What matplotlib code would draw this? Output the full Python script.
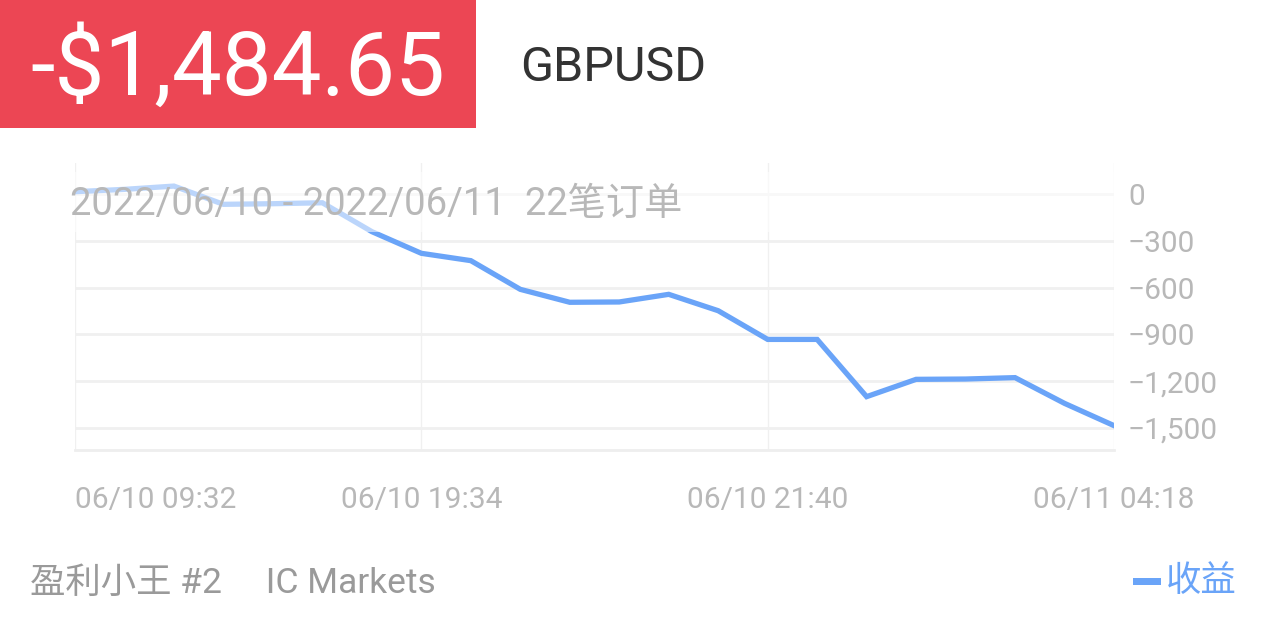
import matplotlib
matplotlib.use('Agg')
import matplotlib.pyplot as plt
from matplotlib.patches import Rectangle
import numpy as np

plt.rcParams['font.family'] = ['Roboto', 'Noto Sans CJK SC', 'DejaVu Sans']

# data
profit = [15, 30, 51, -66, -62, -56, -241, -380, -427, -611, -694, -692,
          -643, -748, -932, -932, -1299, -1188, -1186, -1177, -1342, -1484.65]
tick_idx = [0, 7, 14, 21]
tick_labels = ['06/10 09:32', '06/10 19:34', '06/10 21:40', '06/11 04:18']
y_ticks = [0, -300, -600, -900, -1200, -1500]
total_label = '-$1,484.65'
symbol = 'GBPUSD'
range_label = '2022/06/10 - 2022/06/11  22笔订单'
account_label = '盈利小王 #2     IC Markets'
legend_label = '收益'

W, H = 1266, 633
fig = plt.figure(figsize=(W / 100, H / 100), dpi=100)
fig.patch.set_facecolor('white')

line_color = '#6aa4f8'
grid_color = '#f0f0f0'
text_gray = '#b8b8b8'

# ---- chart area
ax = fig.add_axes([75 / W, 1 - 450 / H, (1114 - 75) / W, (450 - 163) / H])
x = np.arange(len(profit))
ax.plot(x, profit, color=line_color, lw=3.8, solid_joinstyle='miter', zorder=3)
ax.set_xlim(0, len(profit) - 1)
ax.set_ylim(-1641, 199)

for v in y_ticks:
    ax.axhline(v, color=grid_color, lw=2, zorder=1)
for i in tick_idx:
    ax.axvline(i, color=grid_color, lw=1, zorder=1)

for s in ['top', 'left', 'right']:
    ax.spines[s].set_visible(False)
ax.spines['bottom'].set_color('#eeeeee')
ax.spines['bottom'].set_linewidth(2)

ax.set_xticks(tick_idx)
ax.set_xticklabels(tick_labels, fontsize=21.5, color=text_gray)
ax.get_xticklabels()[0].set_horizontalalignment('left')
ax.tick_params(axis='x', length=0, pad=26)

ax.yaxis.tick_right()
ax.set_yticks(y_ticks)
ax.set_yticklabels(['{:,}'.format(v).replace('-', '\u2212') for v in y_ticks],
                   fontsize=21.5, color=text_gray)
ax.tick_params(axis='y', length=0, pad=10)

# translucent band behind the date range text
ax.add_patch(Rectangle((60 / W, 1 - 232 / H), (1114 - 60) / W, 60 / H,
                       transform=fig.transFigure, facecolor='white',
                       alpha=0.55, edgecolor='none', zorder=4))
fig.text(70 / W, 1 - 204 / H, range_label, fontsize=27.5, color=text_gray,
         va='center', ha='left', zorder=5)

# ---- header
fig.patches.append(Rectangle((0, 1 - 128 / H), 476 / W, 128 / H,
                             transform=fig.transFigure, facecolor='#ec4654',
                             edgecolor='none'))
fig.text(30 / W, 1 - 70 / H, total_label, fontsize=64, color='white',
         va='center', ha='left')
fig.text(520 / W, 1 - 68 / H, symbol, fontsize=35, color='#333333',
         va='center', ha='left')

# ---- footer
fig.text(30 / W, 1 - 583 / H, account_label, fontsize=25.5, color='#9a9a9a',
         va='center', ha='left')
fig.patches.append(Rectangle((1133 / W, 1 - 585 / H), 28 / W, 7 / H,
                             transform=fig.transFigure, facecolor=line_color,
                             edgecolor='none'))
fig.text(1237 / W, 1 - 582 / H, legend_label, fontsize=25.5, color=line_color,
         va='center', ha='right')

fig.savefig('out.png', dpi=100, facecolor='white')
